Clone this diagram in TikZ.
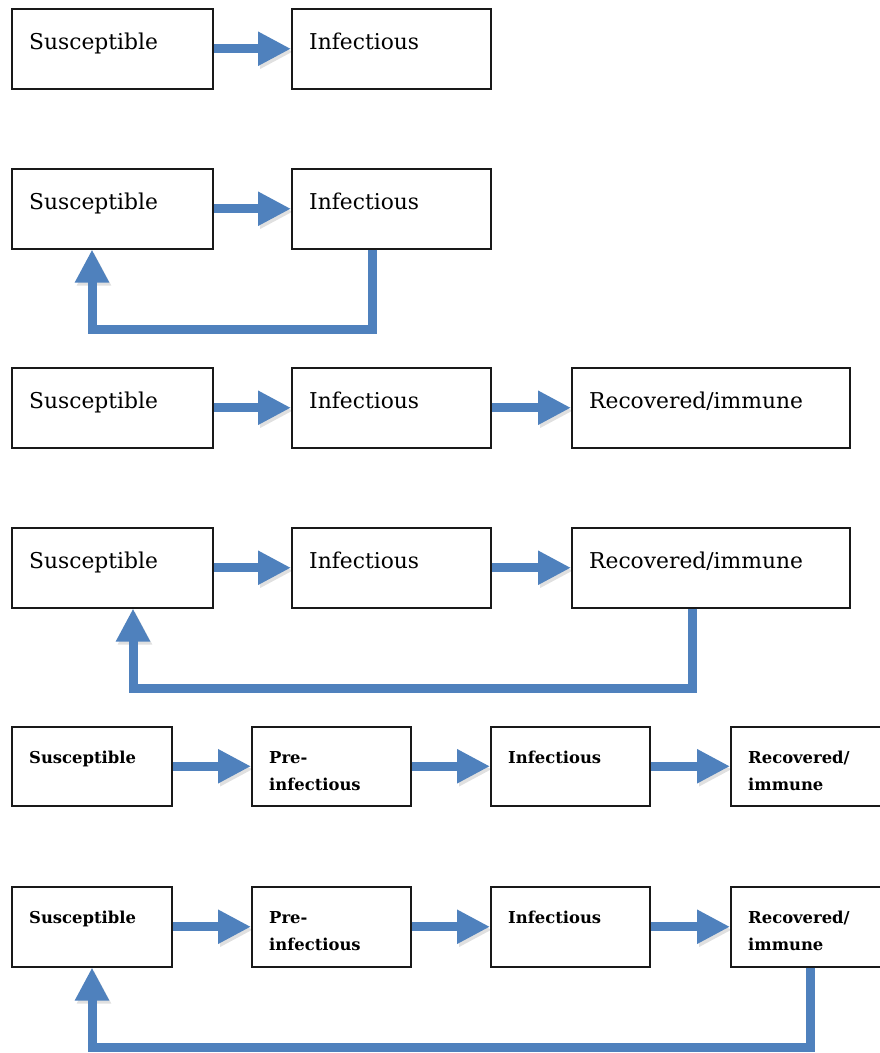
\documentclass[tikz,border=0pt]{standalone}
\usepackage{fontspec}
\setmainfont{DejaVu Serif}
\usetikzlibrary{arrows.meta,calc}
\definecolor{flowblue}{RGB}{79,129,189}
\tikzset{
  box/.style={draw=black!90, line width=1.5pt, rectangle, anchor=north west, inner sep=0pt, minimum height=80pt},
  bigtxt/.style={anchor=base west, inner sep=0pt, font=\fontsize{21.8}{26}\selectfont},
  smalltxt/.style={anchor=base west, inner sep=0pt, align=left, font=\fontsize{16.4}{27}\selectfont\bfseries},
  flow/.style={draw=flowblue, line width=9pt, line join=miter,
    -{Triangle[length=33pt,width=32pt]},
    preaction={draw=black, opacity=0.12, transform canvas={shift={(2pt,-3pt)}}}},
}
\begin{document}
\begin{tikzpicture}[x=1pt,y=-1pt]
\path[use as bounding box, clip] (0,0) rectangle (880,1053);
\fill[white] (0,0) rectangle (880,1053);

% Row 1
\node[box, minimum width=201pt] (s1) at (11,8) {};
\node[box, minimum width=199pt] (i1) at (291,8) {};
\node[bigtxt] (s1t) at ($(s1.north west)+(18,41)$) {Susceptible};
\node[bigtxt] (i1t) at ($(i1.north west)+(18,41)$) {Infectious};
\draw[flow] (s1.east) -- (i1.west);

% Row 2
\node[box, minimum width=201pt] (s2) at (11,168) {};
\node[box, minimum width=199pt] (i2) at (291,168) {};
\node[bigtxt] (s2t) at ($(s2.north west)+(18,41)$) {Susceptible};
\node[bigtxt] (i2t) at ($(i2.north west)+(18,41)$) {Infectious};
\draw[flow] (s2.east) -- (i2.west);
\draw[flow] ($(i2.south west)+(81,0)$) -- ++(0,79.5) -| ($(s2.south west)+(81,0)$);

% Row 3
\node[box, minimum width=201pt] (s3) at (11,367) {};
\node[box, minimum width=199pt] (i3) at (291,367) {};
\node[box, minimum width=278pt] (r3) at (571,367) {};
\node[bigtxt] (s3t) at ($(s3.north west)+(18,41)$) {Susceptible};
\node[bigtxt] (i3t) at ($(i3.north west)+(18,41)$) {Infectious};
\node[bigtxt] (r3t) at ($(r3.north west)+(18,41)$) {Recovered/immune};
\draw[flow] (s3.east) -- (i3.west);
\draw[flow] (i3.east) -- (r3.west);

% Row 4
\node[box, minimum width=201pt] (s4) at (11,527) {};
\node[box, minimum width=199pt] (i4) at (291,527) {};
\node[box, minimum width=278pt] (r4) at (571,527) {};
\node[bigtxt] (s4t) at ($(s4.north west)+(18,41)$) {Susceptible};
\node[bigtxt] (i4t) at ($(i4.north west)+(18,41)$) {Infectious};
\node[bigtxt] (r4t) at ($(r4.north west)+(18,41)$) {Recovered/immune};
\draw[flow] (s4.east) -- (i4.west);
\draw[flow] (i4.east) -- (r4.west);
\draw[flow] ($(r4.south west)+(121,0)$) -- ++(0,79.5) -| ($(s4.south west)+(122,0)$);

% Row 5
\node[box, minimum width=160pt, minimum height=79pt] (s5) at (11,726) {};
\node[box, minimum width=159pt, minimum height=79pt] (p5) at (251,726) {};
\node[box, minimum width=159pt, minimum height=79pt] (i5) at (490,726) {};
\node[box, minimum width=170pt, minimum height=79pt] (r5) at (730,726) {};
\node[smalltxt] (s5t) at ($(s5.north west)+(18,37)$) {Susceptible};
\node[smalltxt] (p5t) at ($(p5.north west)+(18,64)$) {Pre-\\infectious};
\node[smalltxt] (i5t) at ($(i5.north west)+(18,37)$) {Infectious};
\node[smalltxt] (r5t) at ($(r5.north west)+(18,64)$) {Recovered/\\immune};
\draw[flow] (s5.east) -- (p5.west);
\draw[flow] (p5.east) -- (i5.west);
\draw[flow] (i5.east) -- (r5.west);

% Row 6
\node[box, minimum width=160pt] (s6) at (11,886) {};
\node[box, minimum width=159pt] (p6) at (251,886) {};
\node[box, minimum width=159pt] (i6) at (490,886) {};
\node[box, minimum width=170pt] (r6) at (730,886) {};
\node[smalltxt] (s6t) at ($(s6.north west)+(18,37)$) {Susceptible};
\node[smalltxt] (p6t) at ($(p6.north west)+(18,64)$) {Pre-\\infectious};
\node[smalltxt] (i6t) at ($(i6.north west)+(18,37)$) {Infectious};
\node[smalltxt] (r6t) at ($(r6.north west)+(18,64)$) {Recovered/\\immune};
\draw[flow] (s6.east) -- (p6.west);
\draw[flow] (p6.east) -- (i6.west);
\draw[flow] (i6.east) -- (r6.west);
\draw[flow] ($(r6.south west)+(80,0)$) -- ++(0,80) -| ($(s6.south west)+(81,0)$);
\end{tikzpicture}
\end{document}
